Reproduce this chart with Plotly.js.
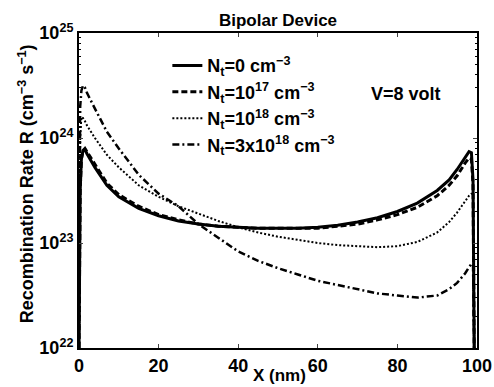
<!DOCTYPE html>
<html>
<head>
<meta charset="utf-8">
<script src="https://cdn.plot.ly/plotly-3.0.1.min.js"></script>
<style>html,body{margin:0;padding:0;background:#fff;}#chart{width:494px;height:387px;}</style>
</head>
<body>
<div id="chart"></div>
<script>
// Position X (nm)
const xs = [0, 0.3, 0.6, 1, 1.5, 2, 4, 7, 10, 15, 20, 25, 30, 35, 40, 45, 50, 55, 60, 65, 70, 75, 80, 85, 90, 93, 95, 97, 98, 98.6, 99, 99.3];
// log10 of recombination rate R (cm^-3 s^-1)
const logNt0    = [22, 23.5, 23.8, 23.88, 23.89, 23.85, 23.72, 23.55, 23.44, 23.33, 23.26, 23.21, 23.18, 23.16, 23.15, 23.14, 23.14, 23.14, 23.15, 23.17, 23.2, 23.24, 23.3, 23.38, 23.5, 23.6, 23.7, 23.82, 23.87, 23.86, 23.6, 22];
const logNt1e17 = [22, 23.5, 23.8, 23.88, 23.9, 23.87, 23.74, 23.57, 23.46, 23.35, 23.27, 23.22, 23.18, 23.16, 23.15, 23.14, 23.14, 23.14, 23.14, 23.16, 23.18, 23.22, 23.27, 23.34, 23.45, 23.55, 23.64, 23.76, 23.81, 23.8, 23.55, 22];
const logNt1e18 = [22, 24.0, 24.2, 24.19, 24.16, 24.12, 24.0, 23.84, 23.72, 23.55, 23.44, 23.35, 23.28, 23.21, 23.15, 23.1, 23.06, 23.03, 23.0, 22.98, 22.97, 22.96, 22.97, 23.01, 23.1, 23.2, 23.29, 23.4, 23.45, 23.47, 23.47, 22];
const logNt3e18 = [22, 24.3, 24.45, 24.5, 24.48, 24.43, 24.28, 24.06, 23.9, 23.65, 23.47, 23.35, 23.18, 23.05, 22.92, 22.83, 22.76, 22.7, 22.64, 22.6, 22.56, 22.52, 22.5, 22.48, 22.5, 22.56, 22.62, 22.71, 22.77, 22.8, 22.8, 22];

const seriesNames = [
  "N<sub>t</sub>=0 cm<sup>−3</sup>",
  "N<sub>t</sub>=10<sup>17</sup> cm<sup>−3</sup>",
  "N<sub>t</sub>=10<sup>18</sup> cm<sup>−3</sup>",
  "N<sub>t</sub>=3x10<sup>18</sup> cm<sup>−3</sup>"
];
const seriesLogs = [logNt0, logNt1e17, logNt1e18, logNt3e18];
const seriesDash = ["solid", "6px,3px", "2px,2px", "7px,3px,2px,3px"];
const seriesWidth = [3, 3, 2, 2.5];

const xTicks = [0, 20, 40, 60, 80, 100];
const yTickVals = [1e22, 1e23, 1e24, 1e25];
const yTickText = ["10<sup>22</sup>", "10<sup>23</sup>", "10<sup>24</sup>", "10<sup>25</sup>"];

const FONT = "Arial, 'Liberation Sans', Helvetica, sans-serif";
const f = (s) => ({family: FONT, size: s, color: "#000", weight: "bold"});

const traces = seriesLogs.map((lg, i) => ({
  x: xs,
  y: lg.map(v => Math.pow(10, v)),
  type: "scatter",
  mode: "lines",
  name: seriesNames[i],
  line: {color: "#000", width: seriesWidth[i], dash: seriesDash[i]},
  legendgroup: "g" + i
}));

const layout = {
  width: 494, height: 387,
  margin: {l: 79, r: 17, t: 33, b: 39, pad: 0},
  paper_bgcolor: "#fff", plot_bgcolor: "#fff",
  font: f(18),
  title: {text: "Bipolar Device", font: f(17),
          x: 0.5, xref: "paper", y: 0.947, yref: "container", yanchor: "middle"},
  showlegend: true,
  legend: {x: 0.222, y: 0.955, xanchor: "left", yanchor: "top", bgcolor: "rgba(0,0,0,0)",
           borderwidth: 0, font: f(18), tracegroupgap: 0},
  xaxis: {
    range: [0, 100], tickvals: xTicks, ticks: "inside", ticklen: 4, tickwidth: 1,
    showline: true, linewidth: 2, linecolor: "#000", mirror: "ticks", showgrid: false, zeroline: false,
    tickfont: f(18)
  },
  yaxis: {
    type: "log", range: [22, 25], tickvals: yTickVals, ticktext: yTickText,
    ticks: "inside", ticklen: 4, tickwidth: 1,
    minor: {ticks: "inside", ticklen: 2, dtick: "D1", tickcolor: "#000", showgrid: false},
    showline: true, linewidth: 2, linecolor: "#000", mirror: "ticks", showgrid: false, zeroline: false,
    tickfont: f(18)
  },
  annotations: [
    {text: "V=8 volt", xref: "paper", yref: "paper", x: 0.822, y: 0.806,
     xanchor: "center", yanchor: "middle", showarrow: false, font: f(18)},
    {text: "X (nm)", xref: "paper", yref: "paper", x: 0.505, y: -0.088,
     xanchor: "center", yanchor: "middle", showarrow: false, font: f(17)},
    {text: "Recombination Rate R (cm<sup>−3</sup> s<sup>−1</sup>)", xref: "paper", yref: "paper",
     x: -0.133, y: 0.52, xanchor: "center", yanchor: "middle", textangle: -90, showarrow: false, font: f(18)}
  ]
};

Plotly.newPlot("chart", traces, layout, {staticPlot: true, displayModeBar: false});
</script>
</body>
</html>
